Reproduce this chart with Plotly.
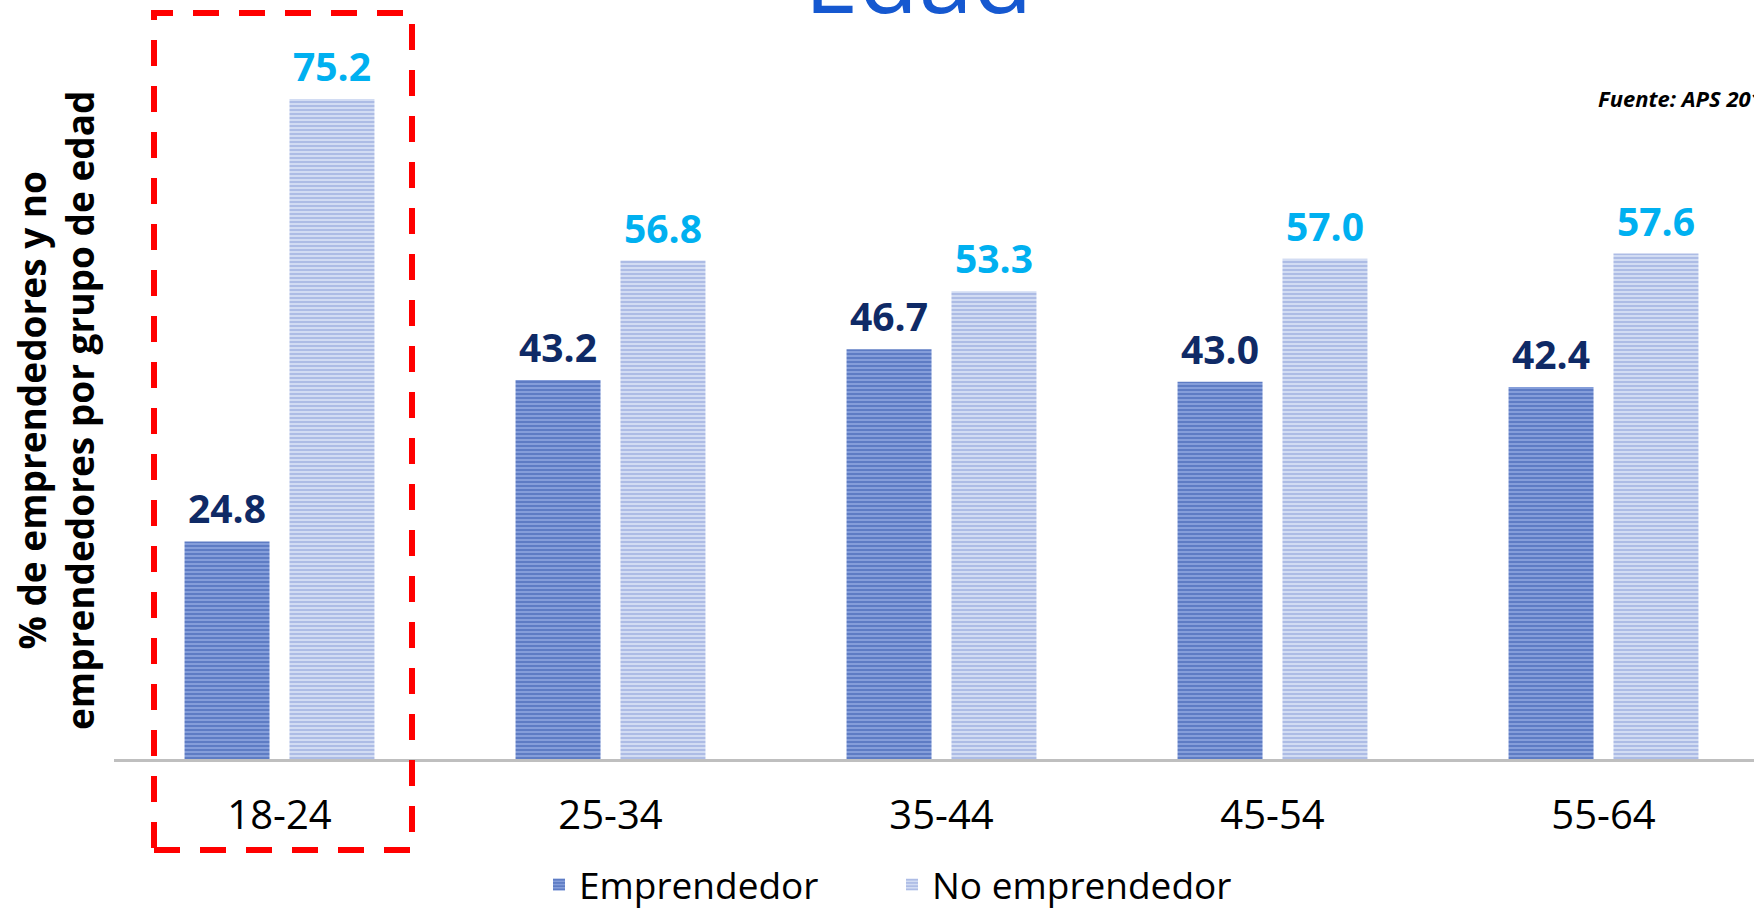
import plotly.graph_objects as go

categories = ["18-24", "25-34", "35-44", "45-54", "55-64"]
emprendedor = [24.8, 43.2, 46.7, 43.0, 42.4]
no_emprendedor = [75.2, 56.8, 53.3, 57.0, 57.6]
series_names = ["Emprendedor", "No emprendedor"]
title_text = "Edad"
y_title = "% de emprendedores y no<br>emprendedores por grupo de edad"
source_text = "<b><i>Fuente: APS 2019</i></b>"

W, H = 1754, 912
ML, MB = 114, 153
PW, PH = W - ML, H - MB
CAT_PX = 331.0
FONT = "Open Sans"

dark_lbl = "#0f2a66"
light_lbl = "#00b0f0"

fig = go.Figure()
fig.add_trace(go.Bar(
    x=categories, y=emprendedor, name=series_names[0],
    marker=dict(color="#8ea6e0", line=dict(width=0),
                pattern=dict(shape="-", fgcolor="#2d52a8", bgcolor="#8ea6e0",
                             size=4, solidity=0.6)),
))
fig.add_trace(go.Bar(
    x=categories, y=no_emprendedor, name=series_names[1],
    marker=dict(color="#d6dff4", line=dict(width=0),
                pattern=dict(shape="-", fgcolor="#8499d6", bgcolor="#d6dff4",
                             size=4, solidity=0.55)),
))

annotations = []
for c, v in zip(categories, emprendedor):
    annotations.append(dict(x=c, y=v, xref="x", yref="y", text=f"<b>{v:.1f}</b>",
                            showarrow=False, xshift=-52.5, yshift=5, yanchor="bottom",
                            font=dict(family=FONT, size=39, color=dark_lbl)))
for c, v in zip(categories, no_emprendedor):
    annotations.append(dict(x=c, y=v, xref="x", yref="y", text=f"<b>{v:.1f}</b>",
                            showarrow=False, xshift=52.5, yshift=5, yanchor="bottom",
                            font=dict(family=FONT, size=39, color=light_lbl)))

def px_x(p):
    return (p - ML) / PW

def px_y(p):
    return (PH - p) / PH

annotations.append(dict(x=px_x(918), y=px_y(44), xref="paper", yref="paper",
                        text=title_text, showarrow=False, xanchor="center", yanchor="bottom",
                        font=dict(family=FONT, size=98, color="#1558d0")))
annotations.append(dict(x=px_x(55), y=px_y(411), xref="paper", yref="paper",
                        text=f"<b>{y_title}</b>", showarrow=False, textangle=-90,
                        xanchor="center", yanchor="middle",
                        font=dict(family=FONT, size=37, color="black")))
annotations.append(dict(x=px_x(1596), y=px_y(98), xref="paper", yref="paper",
                        text=source_text, showarrow=False, xanchor="left", yanchor="middle",
                        font=dict(family=FONT, size=22, color="black")))

fig.update_layout(
    width=W, height=H,
    margin=dict(l=ML, r=0, t=0, b=MB, autoexpand=False),
    paper_bgcolor="white", plot_bgcolor="white",
    barmode="group", bargap=0.366, bargroupgap=0.19,
    showlegend=True,
    legend=dict(orientation="h", x=px_x(892), y=px_y(885), xanchor="center", yanchor="middle",
                font=dict(family=FONT, size=37, color="black"), itemwidth=30,
                entrywidth=308, entrywidthmode="pixels",
                bgcolor="rgba(0,0,0,0)"),
    xaxis=dict(range=[-0.5, -0.5 + PW / CAT_PX], showline=True, linecolor="#bfbfbf",
               linewidth=3, showgrid=False, ticks="", zeroline=False,
               tickfont=dict(family=FONT, size=40, color="black"), ticklabelstandoff=19),
    yaxis=dict(range=[0, PH / 8.775], visible=False, showgrid=False, zeroline=False),
    annotations=annotations,
    shapes=[dict(type="rect", xref="paper", yref="paper",
                 x0=px_x(154), x1=px_x(412), y0=px_y(850), y1=px_y(13),
                 line=dict(color="#ff0000", width=6, dash="26px,20px"),
                 fillcolor="rgba(0,0,0,0)", layer="above")],
)

fig.write_html("out.html", config={"displayModeBar": False},
               post_script="document.body.style.margin='0px';")
